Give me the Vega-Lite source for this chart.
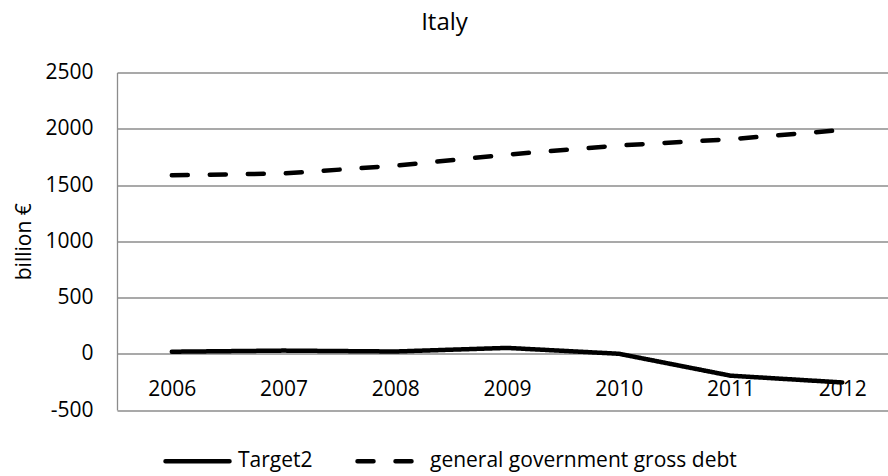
{
  "$schema": "https://vega.github.io/schema/vega-lite/v6.json",
  "width": 771,
  "height": 337.5,
  "autosize": {"type": "none"},
  "padding": {"left": 117, "top": 72.5, "right": 0, "bottom": 66},
  "background": "white",
  "config": {"font": "Open Sans", "view": {"stroke": null}},
  "title": {"text": "Italy", "fontSize": 24, "fontWeight": "normal", "color": "#000000", "dx": -58, "offset": 27, "font": "Open Sans"},
  "data": {"values": [
    {"year": "2006", "series": "Target2", "value": 18},
    {"year": "2007", "series": "Target2", "value": 28},
    {"year": "2008", "series": "Target2", "value": 20},
    {"year": "2009", "series": "Target2", "value": 52},
    {"year": "2010", "series": "Target2", "value": 0},
    {"year": "2011", "series": "Target2", "value": -195},
    {"year": "2012", "series": "Target2", "value": -255},
    {"year": "2006", "series": "general government gross debt", "value": 1587},
    {"year": "2007", "series": "general government gross debt", "value": 1602},
    {"year": "2008", "series": "general government gross debt", "value": 1671},
    {"year": "2009", "series": "general government gross debt", "value": 1770},
    {"year": "2010", "series": "general government gross debt", "value": 1851},
    {"year": "2011", "series": "general government gross debt", "value": 1907},
    {"year": "2012", "series": "general government gross debt", "value": 1989}
  ]},
  "mark": {"type": "line", "color": "#000000", "strokeWidth": 4.5, "strokeCap": "round", "strokeJoin": "round"},
  "encoding": {
    "x": {
      "field": "year", "type": "ordinal",
      "scale": {"type": "point", "padding": 0.45, "align": 0.545},
      "axis": {"title": null, "orient": "bottom", "offset": -56.25, "domain": false, "ticks": false, "labelAngle": 0, "labelFontSize": 21, "labelColor": "#000000", "labelPadding": 25, "grid": false}
    },
    "y": {
      "field": "value", "type": "quantitative",
      "scale": {"domain": [-500, 2500], "nice": false, "zero": false},
      "axis": {"title": "billion €", "titleFontSize": 21, "titleFontWeight": "normal", "titleColor": "#000000", "titlePadding": 10,
               "values": [-500, 0, 500, 1000, 1500, 2000, 2500], "labelExpr": "'' + datum.value", "grid": true, "gridColor": "#8c8c8c", "gridWidth": 1.3,
               "domain": true, "domainColor": "#8c8c8c", "domainWidth": 1.3, "ticks": false,
               "labelFontSize": 21, "labelColor": "#000000", "labelPadding": 24}
    },
    "strokeDash": {
      "field": "series", "type": "nominal",
      "scale": {"domain": ["Target2", "general government gross debt"], "range": [[1, 0], [16, 22]]},
      "legend": {"title": null, "orient": "none", "direction": "horizontal", "legendX": 46, "legendY": 354,
                 "symbolType": "stroke", "symbolSize": 4096, "symbolStrokeWidth": 4.5, "symbolStrokeColor": "#000000",
                 "labelFontSize": 21, "labelColor": "#000000", "labelOffset": 6, "columnPadding": 35, "labelLimit": 500,
                 "encode": {"symbols": {"update": {"strokeCap": {"value": "round"}}}}}
    }
  }
}
